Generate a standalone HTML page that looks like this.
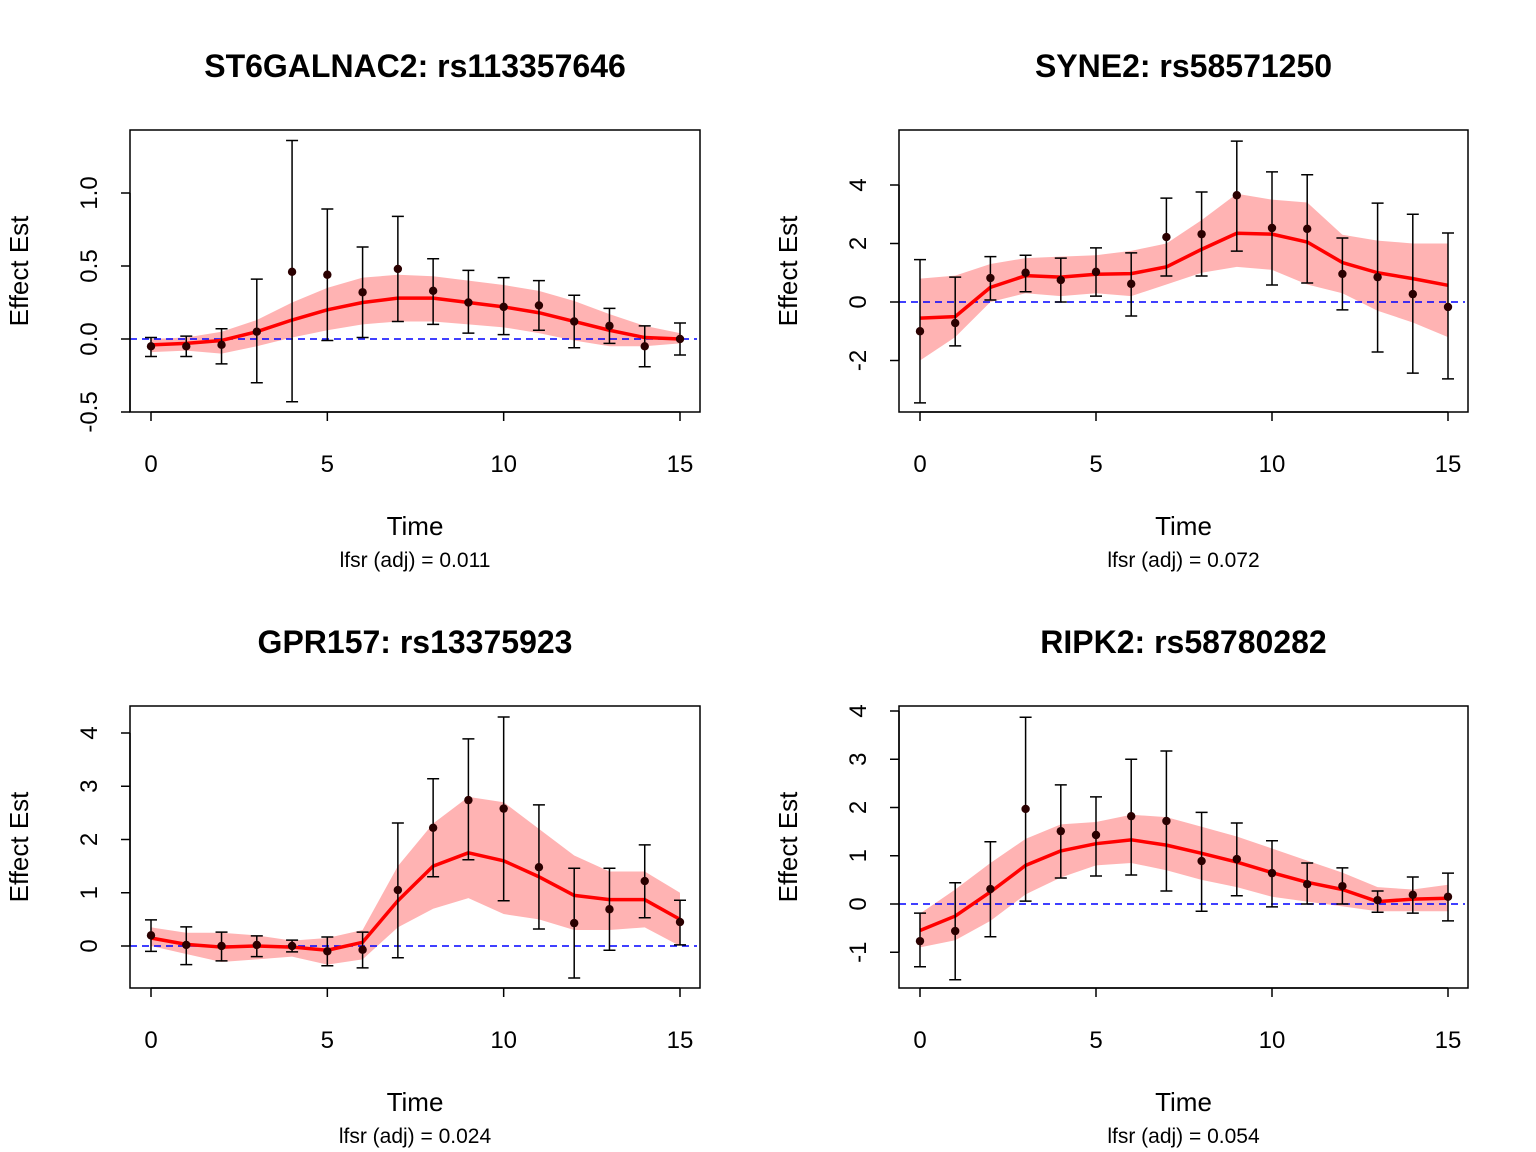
<!DOCTYPE html>
<html><head><meta charset="utf-8">
<style>
html,body{margin:0;padding:0;background:#fff;}
svg{display:block;font-family:"Liberation Sans",Arial,sans-serif;}
</style></head>
<body>
<svg id="fig" width="1536" height="1152" viewBox="0 0 1536 1152" xmlns="http://www.w3.org/2000/svg"></svg>
<script>
const times = [0,1,2,3,4,5,6,7,8,9,10,11,12,13,14,15];

const p1Title = "ST6GALNAC2: rs113357646";
const p1Est = [-0.05,-0.05,-0.04,0.05,0.46,0.44,0.32,0.48,0.33,0.25,0.22,0.23,0.12,0.09,-0.05,0.0];
const p1Hi  = [0.01,0.02,0.07,0.41,1.36,0.89,0.63,0.84,0.55,0.47,0.42,0.40,0.30,0.21,0.09,0.11];
const p1Lo  = [-0.12,-0.12,-0.17,-0.30,-0.43,-0.01,0.01,0.12,0.10,0.04,0.03,0.06,-0.06,-0.03,-0.19,-0.11];
const p1Fit = [-0.04,-0.03,-0.01,0.05,0.13,0.20,0.25,0.28,0.28,0.25,0.22,0.18,0.12,0.06,0.01,0.0];
const p1BandHi = [0.0,0.01,0.05,0.13,0.25,0.35,0.42,0.44,0.43,0.40,0.37,0.33,0.26,0.17,0.09,0.04];
const p1BandLo = [-0.09,-0.08,-0.10,-0.05,0.01,0.06,0.10,0.12,0.12,0.10,0.08,0.04,-0.01,-0.05,-0.05,-0.03];
const p1Ticks = [-0.5,0,0.5,1];
const p1TickLabels = ["-0.5","0.0","0.5","1.0"];
const p1Lfsr = "lfsr (adj) = 0.011";

const p2Title = "SYNE2: rs58571250";
const p2Est = [-1.0,-0.72,0.82,1.0,0.75,1.03,0.62,2.22,2.32,3.65,2.53,2.5,0.96,0.85,0.27,-0.17];
const p2Hi  = [1.45,0.85,1.55,1.6,1.5,1.85,1.68,3.55,3.76,5.5,4.45,4.35,2.19,3.38,3.0,2.36];
const p2Lo  = [-3.45,-1.5,0.07,0.35,0.0,0.2,-0.48,0.89,0.89,1.74,0.58,0.65,-0.27,-1.71,-2.43,-2.63];
const p2Fit = [-0.55,-0.5,0.5,0.9,0.85,0.95,0.97,1.2,1.8,2.35,2.32,2.05,1.35,1.0,0.8,0.57];
const p2BandHi = [0.8,0.9,1.3,1.5,1.55,1.6,1.75,2.0,2.8,3.7,3.5,3.4,2.3,2.1,2.0,2.0];
const p2BandLo = [-2.0,-1.2,0.0,0.3,0.2,0.3,0.2,0.6,1.0,1.2,1.1,0.6,0.3,-0.3,-0.7,-1.2];
const p2Ticks = [-2,0,2,4];
const p2TickLabels = ["-2","0","2","4"];
const p2Lfsr = "lfsr (adj) = 0.072";

const p3Title = "GPR157: rs13375923";
const p3Est = [0.2,0.02,0.0,0.02,0.0,-0.1,-0.07,1.05,2.22,2.74,2.58,1.48,0.43,0.69,1.22,0.45];
const p3Hi  = [0.49,0.36,0.26,0.19,0.11,0.17,0.26,2.31,3.14,3.89,4.3,2.65,1.46,1.46,1.9,0.86];
const p3Lo  = [-0.1,-0.35,-0.28,-0.2,-0.11,-0.37,-0.41,-0.22,1.3,1.62,0.85,0.32,-0.6,-0.08,0.53,0.02];
const p3Fit = [0.15,0.03,-0.02,0.0,-0.02,-0.08,0.07,0.85,1.5,1.75,1.6,1.3,0.95,0.87,0.87,0.5];
const p3BandHi = [0.35,0.25,0.25,0.2,0.1,0.15,0.3,1.5,2.3,2.8,2.7,2.2,1.7,1.4,1.4,1.0];
const p3BandLo = [0.0,-0.15,-0.3,-0.25,-0.2,-0.35,-0.25,0.35,0.7,0.9,0.6,0.5,0.3,0.3,0.35,0.0];
const p3Ticks = [0,1,2,3,4];
const p3TickLabels = ["0","1","2","3","4"];
const p3Lfsr = "lfsr (adj) = 0.024";

const p4Title = "RIPK2: rs58780282";
const p4Est = [-0.77,-0.56,0.31,1.97,1.51,1.43,1.82,1.72,0.89,0.93,0.64,0.41,0.37,0.08,0.19,0.15];
const p4Hi  = [-0.19,0.44,1.29,3.87,2.47,2.22,3.0,3.17,1.9,1.68,1.31,0.85,0.75,0.27,0.56,0.64];
const p4Lo  = [-1.3,-1.57,-0.68,0.06,0.54,0.58,0.6,0.27,-0.15,0.17,-0.06,0.0,0.0,-0.17,-0.19,-0.35];
const p4Fit = [-0.55,-0.25,0.25,0.8,1.1,1.25,1.33,1.22,1.05,0.87,0.65,0.45,0.3,0.05,0.1,0.12];
const p4BandHi = [-0.2,0.3,0.85,1.35,1.65,1.7,1.85,1.8,1.6,1.4,1.15,0.9,0.65,0.35,0.3,0.4];
const p4BandLo = [-0.9,-0.75,-0.35,0.2,0.55,0.8,0.85,0.7,0.5,0.35,0.15,0.05,-0.05,-0.15,-0.15,-0.15];
const p4Ticks = [-1,0,1,2,3,4];
const p4TickLabels = ["-1","0","1","2","3","4"];
const p4Lfsr = "lfsr (adj) = 0.054";

const xTicks = [0,5,10,15];
const xTickLabels = ["0","5","10","15"];

const NS = "http://www.w3.org/2000/svg";
const svg = document.getElementById('fig');
function mk(tag, attrs, parent){
  const e = document.createElementNS(NS, tag);
  for (const k in attrs) e.setAttribute(k, attrs[k]);
  (parent||svg).appendChild(e);
  return e;
}

function panel(cfg){
  const g = mk('g', {});
  
  
  const L=cfg.box[0], T=cfg.box[1], R=cfg.box[2], B=cfg.box[3];
  const xs = t => cfg.x0 + t*(cfg.x15-cfg.x0)/15;
  const ys = v => cfg.yZero - v*cfg.yPer;
  const cx = (L+R)/2;

  let d = "";
  times.forEach((t,i)=>{ d += (i?"L":"M")+xs(t)+","+ys(cfg.bandHi[i]); });
  for (let i=times.length-1;i>=0;i--) d += "L"+xs(times[i])+","+ys(cfg.bandLo[i]);
  const band = mk('path', {d:d+"Z", fill:"#ffb3b3", stroke:"none"}, g);
  
  

  const zl = mk('line', {x1:L, x2:R-3, y1:ys(0), y2:ys(0), stroke:"#0000ff", "stroke-width":1.5, "stroke-dasharray":"7,5"}, g);
  
  

  let fd = "";
  times.forEach((t,i)=>{ fd += (i?"L":"M")+xs(t)+","+ys(cfg.fit[i]); });
  const fl = mk('path', {d:fd, fill:"none", stroke:"#ff0000", "stroke-width":3.5, "stroke-linejoin":"round"}, g);
  
  

  times.forEach((t,i)=>{
    const x = xs(t);
    const eb = mk('path', {d:"M"+x+","+ys(cfg.hi[i])+"V"+ys(cfg.lo[i])+"M"+(x-6)+","+ys(cfg.hi[i])+"H"+(x+6)+"M"+(x-6)+","+ys(cfg.lo[i])+"H"+(x+6), stroke:"#000", "stroke-width":1.5, fill:"none"}, g);
    
    
    const pt = mk('circle', {cx:x, cy:ys(cfg.est[i]), r:4.2, fill:"#2a0000"}, g);
    
    
  });

  const bx = mk('rect', {x:L, y:T, width:R-L, height:B-T, fill:"none", stroke:"#000", "stroke-width":1.5}, g);
  
  

  const xa = mk('g', {}, g);
  
  
  mk('line', {x1:xs(xTicks[0]), x2:xs(xTicks[xTicks.length-1]), y1:B, y2:B, stroke:"#000","stroke-width":1.5}, xa);
  xTicks.forEach((t,i)=>{
    mk('line', {x1:xs(t), x2:xs(t), y1:B, y2:B+9, stroke:"#000","stroke-width":1.5}, xa);
    const tx = mk('text', {x:xs(t), y:B+60, "font-size":24, "text-anchor":"middle"}, xa);
    
    
    tx.textContent = xTickLabels[i];
  });
  const ya = mk('g', {}, g);
  
  
  const yt = cfg.ticks;
  mk('line', {x1:L, x2:L, y1:ys(yt[0]), y2:ys(yt[yt.length-1]), stroke:"#000","stroke-width":1.5}, ya);
  yt.forEach((v,i)=>{
    mk('line', {x1:L-9, x2:L, y1:ys(v), y2:ys(v), stroke:"#000","stroke-width":1.5}, ya);
    const tx = mk('text', {x:0, y:0, "font-size":24, "text-anchor":"middle", transform:"translate("+(L-33)+","+ys(v)+") rotate(-90)"}, ya);
    
    
    tx.textContent = cfg.tickLabels[i];
  });

  const title = mk('text', {x:cx, y:T-53, "font-size":32, "font-weight":"bold", "text-anchor":"middle"}, g);
  
  
  title.textContent = cfg.title;

  const xl = mk('text', {x:cx, y:B+123, "font-size":26, "text-anchor":"middle"}, g);
  
  
  xl.textContent = "Time";

  const lf = mk('text', {x:cx, y:B+155, "font-size":21, "text-anchor":"middle"}, g);
  
  
  lf.textContent = cfg.lfsr;

  const yl = mk('text', {x:0, y:0, "font-size":26, "text-anchor":"middle", transform:"translate("+(L-102)+","+((T+B)/2)+") rotate(-90)"}, g);
  
  
  yl.textContent = "Effect Est";
}

panel({name:"panel-st6galnac2", box:[130,130,700,412], x0:151, x15:680, yZero:339, yPer:146,
  est:p1Est, hi:p1Hi, lo:p1Lo, fit:p1Fit, bandHi:p1BandHi, bandLo:p1BandLo, ticks:p1Ticks, tickLabels:p1TickLabels, title:p1Title, lfsr:p1Lfsr});
panel({name:"panel-syne2", box:[899,130,1468,412], x0:920, x15:1448, yZero:302, yPer:29.25,
  est:p2Est, hi:p2Hi, lo:p2Lo, fit:p2Fit, bandHi:p2BandHi, bandLo:p2BandLo, ticks:p2Ticks, tickLabels:p2TickLabels, title:p2Title, lfsr:p2Lfsr});
panel({name:"panel-gpr157", box:[130,706,700,988], x0:151, x15:680, yZero:946, yPer:53.25,
  est:p3Est, hi:p3Hi, lo:p3Lo, fit:p3Fit, bandHi:p3BandHi, bandLo:p3BandLo, ticks:p3Ticks, tickLabels:p3TickLabels, title:p3Title, lfsr:p3Lfsr});
panel({name:"panel-ripk2", box:[899,706,1468,988], x0:920, x15:1448, yZero:904, yPer:48.25,
  est:p4Est, hi:p4Hi, lo:p4Lo, fit:p4Fit, bandHi:p4BandHi, bandLo:p4BandLo, ticks:p4Ticks, tickLabels:p4TickLabels, title:p4Title, lfsr:p4Lfsr});
</script>
</body></html>
